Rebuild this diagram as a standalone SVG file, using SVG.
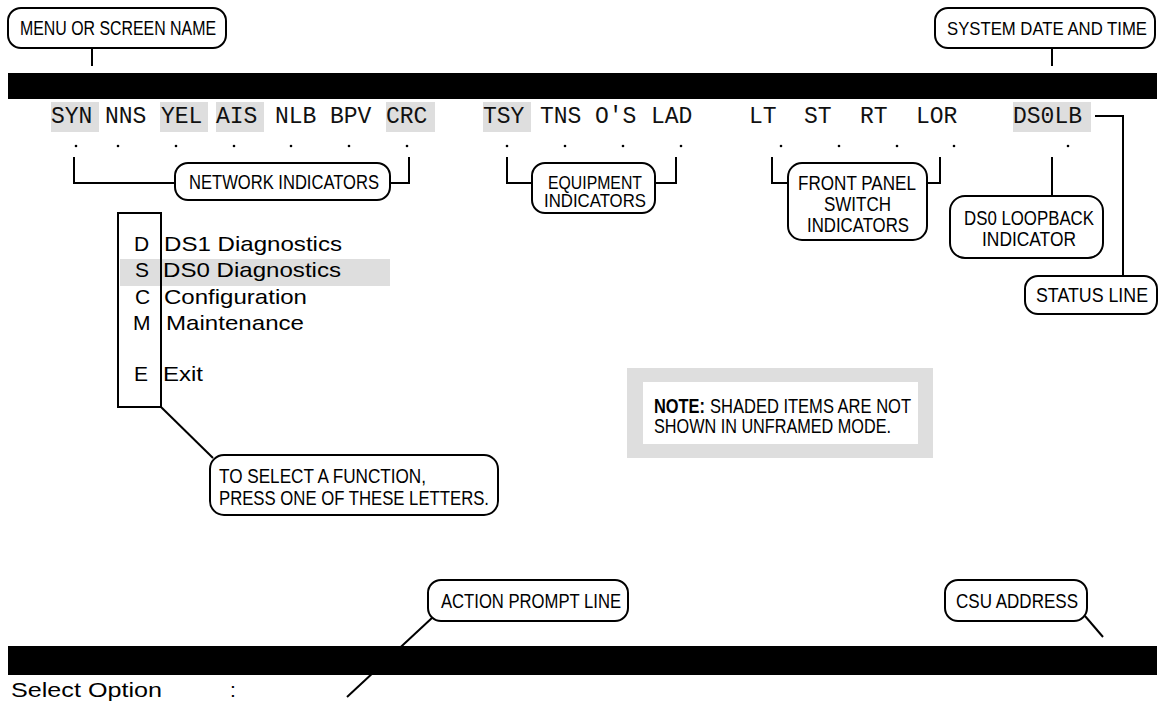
<svg xmlns="http://www.w3.org/2000/svg" width="1165" height="703" viewBox="0 0 1165 703">
  <style>
    .bar { fill: #000; }
    .shade { fill: #dedede; }
    .line { fill: none; stroke: #000; stroke-width: 2; }
    .call { fill: #fff; stroke: #000; stroke-width: 2; }
    .lbl { font-family: "Liberation Sans Narrow", "Liberation Sans", Arial, sans-serif; font-size: 20px; fill: #000; }
    .lbl2 { font-family: "Liberation Sans Narrow", "Liberation Sans", Arial, sans-serif; font-size: 18px; fill: #000; }
    .mono { font-family: "Liberation Mono", "Courier New", monospace; font-size: 23px; fill: #111; }
    .menu { font-family: "Liberation Sans", Arial, sans-serif; font-size: 21px; fill: #000; }
    .dot { fill: #000; }
  </style>

  <!-- screen frame: top title bar -->
  <g id="screen">
    <rect class="bar" x="8" y="73" width="1149" height="26"/>
  </g>

  <!-- status line: shaded indicators, names and dots -->
  <g id="status-line">
    <rect class="shade" x="51" y="102" width="48" height="30"/>
    <rect class="shade" x="160" y="102" width="48" height="30"/>
    <rect class="shade" x="216" y="102" width="48" height="30"/>
    <rect class="shade" x="386" y="102" width="49" height="30"/>
    <rect class="shade" x="483" y="102" width="48" height="30"/>
    <rect class="shade" x="1013" y="102" width="78" height="30"/>
    <text class="mono" x="51" y="123">SYN</text>
    <text class="mono" x="105" y="123">NNS</text>
    <text class="mono" x="161" y="123">YEL</text>
    <text class="mono" x="216" y="123">AIS</text>
    <text class="mono" x="275" y="123">NLB</text>
    <text class="mono" x="330" y="123">BPV</text>
    <text class="mono" x="386" y="123">CRC</text>
    <text class="mono" x="483" y="123">TSY</text>
    <text class="mono" x="540" y="123">TNS</text>
    <text class="mono" x="595" y="123">O'S</text>
    <text class="mono" x="651" y="123">LAD</text>
    <text class="mono" x="749" y="123">LT</text>
    <text class="mono" x="804" y="123">ST</text>
    <text class="mono" x="860" y="123">RT</text>
    <text class="mono" x="916" y="123">LOR</text>
    <text class="mono" x="1013" y="123">DS0LB</text>
    <circle class="dot" cx="76" cy="146" r="1.3"/>
    <circle class="dot" cx="118" cy="146" r="1.3"/>
    <circle class="dot" cx="176" cy="146" r="1.3"/>
    <circle class="dot" cx="234" cy="146" r="1.3"/>
    <circle class="dot" cx="291" cy="146" r="1.3"/>
    <circle class="dot" cx="349" cy="146" r="1.3"/>
    <circle class="dot" cx="407" cy="146" r="1.3"/>
    <circle class="dot" cx="507" cy="146" r="1.3"/>
    <circle class="dot" cx="565" cy="146" r="1.3"/>
    <circle class="dot" cx="623" cy="146" r="1.3"/>
    <circle class="dot" cx="681" cy="146" r="1.3"/>
    <circle class="dot" cx="781" cy="146" r="1.3"/>
    <circle class="dot" cx="839" cy="146" r="1.3"/>
    <circle class="dot" cx="897" cy="146" r="1.3"/>
    <circle class="dot" cx="954" cy="146" r="1.3"/>
    <circle class="dot" cx="1068" cy="146" r="1.3"/>
  </g>

  <!-- menu body -->
  <g id="menu">
    <rect class="shade" x="120" y="259" width="270" height="27"/>
    <rect class="line" x="118" y="213" width="43" height="194"/>
    <text class="menu" x="134" y="251">D</text>
    <text class="menu" x="135" y="277">S</text>
    <text class="menu" x="135" y="304">C</text>
    <text class="menu" x="133" y="330">M</text>
    <text class="menu" x="134" y="381">E</text>
    <text class="menu" x="164" y="251" textLength="178" lengthAdjust="spacingAndGlyphs">DS1 Diagnostics</text>
    <text class="menu" x="163" y="277" textLength="178" lengthAdjust="spacingAndGlyphs">DS0 Diagnostics</text>
    <text class="menu" x="164" y="304" textLength="143" lengthAdjust="spacingAndGlyphs">Configuration</text>
    <text class="menu" x="166" y="330" textLength="138" lengthAdjust="spacingAndGlyphs">Maintenance</text>
    <text class="menu" x="163" y="381" textLength="40" lengthAdjust="spacingAndGlyphs">Exit</text>
  </g>

  <!-- leader lines and brackets -->
  <g id="connectors">
    <path class="line" d="M92 48 V66"/>
    <path class="line" d="M1052 48 V66"/>
    <path class="line" d="M74 157 V183 H175"/>
    <path class="line" d="M390 183 H409 V157"/>
    <path class="line" d="M507 157 V183 H532"/>
    <path class="line" d="M655 183 H676 V157"/>
    <path class="line" d="M772 157 V183 H788"/>
    <path class="line" d="M927 183 H940 V157"/>
    <path class="line" d="M1052 157 V196"/>
    <path class="line" d="M1095 116 H1123 V276"/>
    <path class="line" d="M161 407 L213 458"/>
    <path class="line" d="M433 617 L347 697"/>
    <path class="line" d="M1085 616 L1103 637"/>
  </g>

  <!-- bottom prompt bar, drawn over the prompt leader -->
  <g id="prompt">
    <rect class="bar" x="8" y="646" width="1149" height="29"/>
    <text class="menu" x="11" y="697" textLength="151" lengthAdjust="spacingAndGlyphs">Select Option</text>
    <text class="menu" x="230" y="697">:</text>
  </g>

  <g id="menu-name">
    <rect class="call" x="8" y="8" width="218" height="40" rx="13"/>
    <text class="lbl" x="20" y="35" textLength="196" lengthAdjust="spacingAndGlyphs">MENU OR SCREEN NAME</text>
  </g>
  <g id="date-time">
    <rect class="call" x="935" y="8" width="220" height="40" rx="13"/>
    <text class="lbl2" x="947" y="35" textLength="200" lengthAdjust="spacingAndGlyphs" font-size="19">SYSTEM DATE AND TIME</text>
  </g>
  <g id="network-indicators">
    <rect class="call" x="175" y="163" width="215" height="37" rx="13"/>
    <text class="lbl" x="189" y="189" textLength="190" lengthAdjust="spacingAndGlyphs">NETWORK INDICATORS</text>
  </g>
  <g id="equipment-indicators">
    <rect class="call" x="532" y="163" width="123" height="50" rx="13"/>
    <text class="lbl2" x="548" y="189" textLength="94" lengthAdjust="spacingAndGlyphs">EQUIPMENT</text>
    <text class="lbl2" x="544" y="207" textLength="102" lengthAdjust="spacingAndGlyphs">INDICATORS</text>
  </g>
  <g id="front-panel">
    <rect class="call" x="788" y="163" width="139" height="77" rx="14"/>
    <text class="lbl" x="798" y="190" textLength="118" lengthAdjust="spacingAndGlyphs">FRONT PANEL</text>
    <text class="lbl" x="824" y="211" textLength="67" lengthAdjust="spacingAndGlyphs">SWITCH</text>
    <text class="lbl" x="807" y="232" textLength="102" lengthAdjust="spacingAndGlyphs">INDICATORS</text>
  </g>
  <g id="ds0-loopback">
    <rect class="call" x="950" y="196" width="153" height="62" rx="15"/>
    <text class="lbl" x="964" y="225" textLength="130" lengthAdjust="spacingAndGlyphs">DS0 LOOPBACK</text>
    <text class="lbl" x="982" y="246" textLength="94" lengthAdjust="spacingAndGlyphs">INDICATOR</text>
  </g>
  <g id="status-label">
    <rect class="call" x="1025" y="276" width="132" height="38" rx="13"/>
    <text class="lbl" x="1036" y="302" textLength="112" lengthAdjust="spacingAndGlyphs">STATUS LINE</text>
  </g>
  <g id="select-hint">
    <rect class="call" x="210" y="455" width="288" height="60" rx="14"/>
    <text class="lbl" x="219" y="483" textLength="207" lengthAdjust="spacingAndGlyphs">TO SELECT A FUNCTION,</text>
    <text class="lbl" x="219" y="505" textLength="270" lengthAdjust="spacingAndGlyphs">PRESS ONE OF THESE LETTERS.</text>
  </g>
  <g id="note">
    <rect class="shade" x="627" y="368" width="306" height="90"/>
    <rect fill="#fff" x="643" y="382" width="275" height="62"/>
    <text class="lbl" x="654" y="413" textLength="51" lengthAdjust="spacingAndGlyphs" font-weight="bold">NOTE:</text>
    <text class="lbl" x="710" y="413" textLength="201" lengthAdjust="spacingAndGlyphs">SHADED ITEMS ARE NOT</text>
    <text class="lbl" x="654" y="433" textLength="237" lengthAdjust="spacingAndGlyphs">SHOWN IN UNFRAMED MODE.</text>
  </g>
  <g id="action-prompt">
    <rect class="call" x="428" y="580" width="200" height="41" rx="13"/>
    <text class="lbl" x="441" y="608" textLength="180" lengthAdjust="spacingAndGlyphs">ACTION PROMPT LINE</text>
  </g>
  <g id="csu-address">
    <rect class="call" x="945" y="580" width="142" height="41" rx="13"/>
    <text class="lbl" x="956" y="608" textLength="122" lengthAdjust="spacingAndGlyphs">CSU ADDRESS</text>
  </g>
</svg>
